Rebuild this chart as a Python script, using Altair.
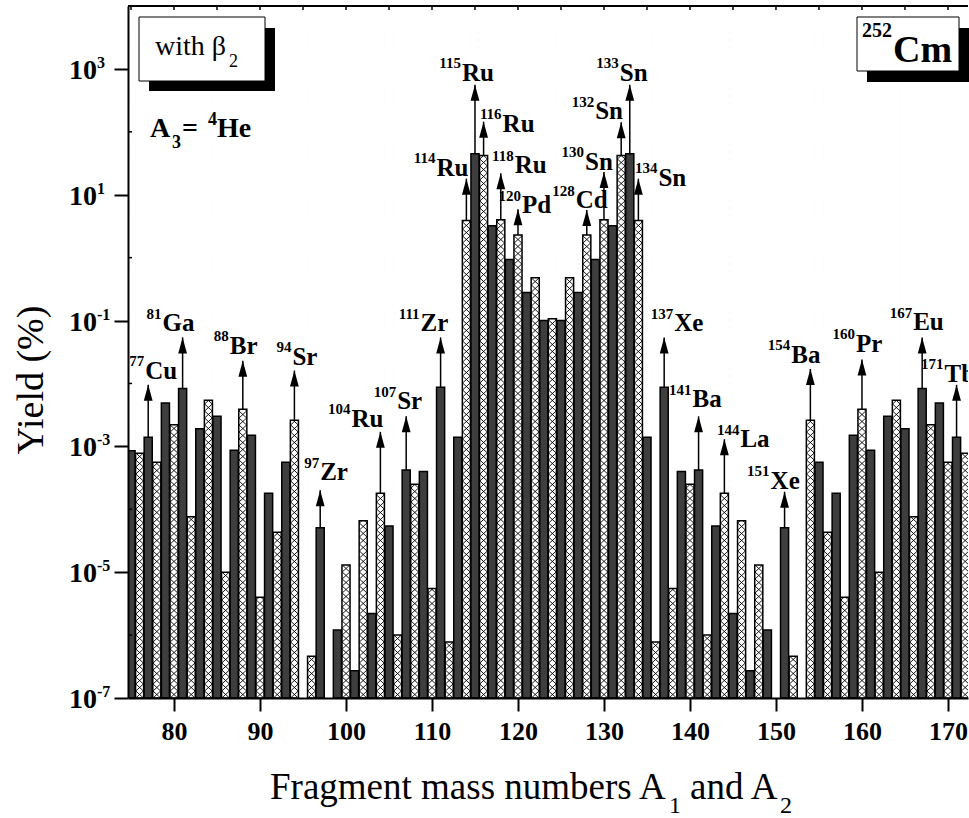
import altair as alt
import pandas as pd
import numpy as np

FONT = "Liberation Serif"

# ---------------- data ----------------
mass_left = list(range(75, 125))
yield_left = [8.5e-4, 7.8e-4, 1.4e-3, 5.6e-4, 4.9e-3, 2.2e-3, 8.3e-3, 7.6e-5, 1.9e-3, 5.4e-3,
              3.0e-3, 1.0e-5, 8.7e-4, 3.9e-3, 1.5e-3, 4.0e-6, 1.8e-4, 4.3e-5, 5.6e-4, 2.6e-3,
              None, 4.6e-7, 5.1e-5, None, 1.2e-6, 1.3e-5, 2.7e-7, 6.6e-5, 2.2e-6, 1.8e-4,
              5.4e-5, 1.0e-6, 4.2e-4, 2.5e-4, 4.0e-4, 5.5e-6, 8.7e-3, 7.8e-7, 1.4e-3, 3.9,
              45.0, 42.0, 3.2, 4.0, 0.93, 2.3, 0.28, 0.48, 0.100, 0.107]
mass_right = list(range(125, 173))
yield_right = [0.100, 0.48, 0.28, 2.3, 0.93, 4.0, 3.2, 42.0, 45.0, 3.9,
               1.4e-3, 7.8e-7, 8.7e-3, 5.5e-6, 4.0e-4, 2.5e-4, 4.2e-4, 1.0e-6, 5.4e-5, 1.8e-4,
               2.2e-6, 6.6e-5, 2.7e-7, 1.3e-5, 1.2e-6, None, 5.1e-5, 4.6e-7, None, 2.6e-3,
               5.6e-4, 4.3e-5, 1.8e-4, 4.0e-6, 1.5e-3, 3.9e-3, 8.7e-4, 1.0e-5, 3.0e-3, 5.4e-3,
               1.9e-3, 7.6e-5, 8.3e-3, 2.2e-3, 4.9e-3, 5.6e-4, 1.4e-3, 7.8e-4]

ann_mass = [77, 81, 88, 94, 97, 104, 107, 111, 114, 115, 116, 118, 120,
            128, 130, 132, 133, 134, 137, 141, 144, 151, 154, 160, 167, 171]
ann_elem = ["Cu", "Ga", "Br", "Sr", "Zr", "Ru", "Sr", "Zr", "Ru", "Ru", "Ru", "Ru", "Pd",
            "Cd", "Sn", "Sn", "Sn", "Sn", "Xe", "Ba", "La", "Xe", "Ba", "Pr", "Eu", "Tb"]
ann_tip = [9.5e-3, 5.4e-2, 2.3e-2, 1.6e-2, 2.0e-4, 1.7e-3, 3.0e-3, 5.4e-2, 18, 560, 145, 22, 5.9,
           5.7, 23, 142, 560, 18, 5.4e-2, 3.0e-3, 1.3e-3, 1.9e-4, 1.7e-2, 2.4e-2, 5.4e-2, 9.5e-3]
# label placement (pixels, relative to arrow tip) -- layout only
label_dx = [-3, -20, -13, -2, 0, -29, -9, -20, -30, -13, 19, 14, 4,
            -11, -19, -26, -10, 20, 10, -6, 16, -14, -19, -6, -9, -12]
label_dy = [-6, -6, -7, -6, -10, -5, -7, -6, -3, -4, 10, 0, 4,
            -2, -2, -3, -4, 7, -6, -9, 8, -3, -6, -8, -7, -3]

x_ticks = [80, 90, 100, 110, 120, 130, 140, 150, 160, 170]
top_ticks = list(range(75, 175, 5))
y_major = [1e-7, 1e-5, 1e-3, 1e-1, 1e1, 1e3]
y_major_exp = ["-7", "-5", "-3", "-1", "1", "3"]
y_minor = [1e-6, 1e-4, 1e-2, 1e0, 1e2]

# ---------------- geometry ----------------
XMIN, XMAX = 74.65, 172.33
YMIN, YMAX = 1e-7, 1e4
W, H = 840, 692
PXU = W / (XMAX - XMIN)
DEC = H / 11.0
HALF = 0.47

bars = pd.DataFrame({"A": mass_left + mass_right, "Y": yield_left + yield_right}).dropna()
bars["x1"] = bars["A"] - HALF
bars["x2"] = bars["A"] + HALF
bars["c1"] = bars["A"] - 0.52
bars["c2"] = bars["A"] + 0.52
bars["bottom"] = YMIN
bars["top"] = YMAX
dark = bars[bars["A"] % 2 == 1]
hatch = bars[bars["A"] % 2 == 0]

ann = pd.DataFrame({"A": ann_mass, "el": ann_elem, "tip": ann_tip,
                    "dx": label_dx, "dy": label_dy})
ann["sup"] = ann["A"].astype(str)
ymap = dict(zip(bars["A"], bars["Y"]))
ann["base"] = ann["A"].map(ymap)
ann["lx"] = ann["A"] + ann["dx"] / PXU
ann["ly"] = ann["tip"] * 10 ** (-ann["dy"] / DEC)

xs = alt.Scale(domain=[XMIN, XMAX], nice=False, zero=False)
ys = alt.Scale(type="log", domain=[YMIN, YMAX], nice=False)

x_axis = alt.Axis(values=x_ticks, title=None, grid=False, labelFont=FONT,
                  labelFontSize=26, labelFontWeight="bold", labelColor="black",
                  tickSize=13, tickWidth=2, tickColor="black", domainWidth=2,
                  domainColor="black", labelPadding=7, labelFlush=False, zindex=1)
y_axis = alt.Axis(values=y_major, title=None, grid=False, labels=False,
                  tickSize=14, tickWidth=2, tickColor="black", domainWidth=2,
                  domainColor="black", zindex=1)


def X(f):
    return alt.X(f, type="quantitative", scale=xs, axis=x_axis)


def Y(f):
    return alt.Y(f, type="quantitative", scale=ys, axis=y_axis)


one = pd.DataFrame({"k": [0]})


def txt(s, x, y, size, bold=True, align="left", angle=0):
    return alt.Chart(one).mark_text(
        align=align, baseline="alphabetic", fontSize=size, font=FONT,
        fontWeight="bold" if bold else "normal", angle=angle, color="black"
    ).encode(x=alt.value(x), y=alt.value(y), text=alt.value(s))


def box(x1, x2, y1, y2, fill, stroke=None):
    kw = dict(fill=fill)
    if stroke:
        kw.update(stroke=stroke, strokeWidth=1)
    return alt.Chart(one).mark_rect(**kw).encode(
        x=alt.value(x1), x2=alt.value(x2), y=alt.value(y1), y2=alt.value(y2))


# cross-hatch column (unit = 4 px)
cell = 1.75
parts = []
for i in range(105):
    y0 = -i * cell
    y1 = y0 - cell
    parts.append(f"M-0.95,{y0:.2f}L0.95,{y1:.2f}M0.95,{y0:.2f}L-0.95,{y1:.2f}")
hatch_path = "".join(parts)

hatch_layer = alt.Chart(hatch).mark_point(
    shape=hatch_path, size=64, filled=False, stroke="black", strokeWidth=0.9,
    opacity=1, clip=True
).encode(x=X("A"), y=Y("bottom"))

cover = alt.Chart(hatch).mark_rect(fill="white", clip=True).encode(
    x=X("c1"), x2="c2", y=Y("Y"), y2="top")

hatch_outline = alt.Chart(hatch).mark_rect(
    fillOpacity=0, stroke="black", strokeWidth=1.5, clip=True
).encode(x=X("x1"), x2="x2", y=Y("Y"), y2="bottom")

dark_layer = alt.Chart(dark).mark_rect(
    fill="#3e3e3e", stroke="black", strokeWidth=1.5, clip=True
).encode(x=X("x1"), x2="x2", y=Y("Y"), y2="bottom")

arrows = alt.Chart(ann).mark_rule(stroke="black", strokeWidth=1.5).encode(
    x=X("A"), y=Y("base"), y2="tip")
heads = alt.Chart(ann).mark_point(
    shape="M0,0L0.55,2L-0.55,2Z", size=256, filled=True, fill="black",
    strokeWidth=0, opacity=1
).encode(x=X("A"), y=Y("tip"))

sup_layer = alt.Chart(ann).mark_text(
    align="right", baseline="alphabetic", fontSize=15, font=FONT,
    fontWeight="bold", dy=-12.5, dx=-1, color="black", clip=True
).encode(x=X("lx"), y=Y("ly"), text="sup:N")
el_layer = alt.Chart(ann).mark_text(
    align="left", baseline="alphabetic", fontSize=25, font=FONT,
    fontWeight="bold", color="black", clip=True
).encode(x=X("lx"), y=Y("ly"), text="el:N")

top_frame = alt.Chart(one).mark_rule(stroke="black", strokeWidth=2).encode(
    x=alt.value(0), x2=alt.value(W), y=alt.value(0))
top_tick_layer = alt.Chart(pd.DataFrame({"t": top_ticks})).mark_rule(
    stroke="black", strokeWidth=1.5).encode(x=X("t"), y=alt.value(0), y2=alt.value(4))
minor_y = alt.Chart(pd.DataFrame({"v": y_minor})).mark_rule(
    stroke="black", strokeWidth=1.5).encode(x=alt.value(0), x2=alt.value(4), y=Y("v"))

ylab_df = pd.DataFrame({"v": y_major, "e": y_major_exp})
ylab_base = alt.Chart(ylab_df).mark_text(
    align="right", baseline="alphabetic", fontSize=28, font=FONT,
    fontWeight="bold", dy=10, color="black"
).encode(x=alt.value(-31), y=Y("v"), text=alt.value("10"))
ylab_exp = alt.Chart(ylab_df).mark_text(
    align="left", baseline="alphabetic", fontSize=16, font=FONT,
    fontWeight="bold", dy=-1, color="black"
).encode(x=alt.value(-31), y=Y("v"), text="e:N")

layers = [
    hatch_layer, cover, hatch_outline, dark_layer, arrows, heads, sup_layer, el_layer,
    top_frame, top_tick_layer, minor_y, ylab_base, ylab_exp,
    # "with beta_2" box
    box(21, 147, 22, 85, "black"), box(11, 137, 11, 75, "white", "black"),
    txt("with β", 27, 49, 28, bold=False), txt("2", 101, 61, 18, bold=False),
    # A3 = 4He
    txt("A", 22, 131, 28), txt("3", 44, 142, 18), txt("=", 54, 131, 28),
    txt("4", 80, 119, 18), txt("He", 89, 131, 28),
    # 252Cm box
    box(739, 851, 22, 76, "black"), box(729, 831, 11, 65, "white", "black"),
    txt("252", 734, 31, 20), txt("Cm", 765, 56, 38),
    # axis titles
    txt("Fragment mass numbers A", 142, 793, 37, bold=False),
    txt("1", 541, 807, 24, bold=False),
    txt("and A", 562, 793, 37, bold=False),
    txt("2", 652, 807, 24, bold=False),
    txt("Yield (%)", -85, 374, 38, bold=False, align="center", angle=270),
]

chart = alt.layer(*layers).properties(
    width=W, height=H,
    padding={"left": 128, "top": 6, "right": 1, "bottom": 120},
    autosize=alt.AutoSizeParams(type="none"),
    background="white",
).configure_view(stroke=None)

chart.save("out.html", embed_options={"renderer": "svg", "actions": False})
